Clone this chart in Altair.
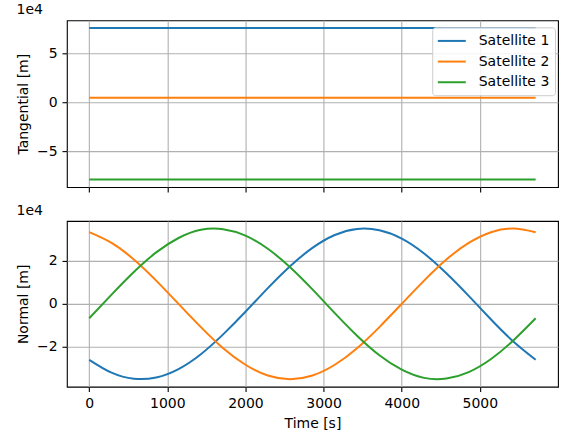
import altair as alt
import pandas as pd

# ---- data ----
satellites = ["Satellite 1", "Satellite 2", "Satellite 3"]
colors = ["#1f77b4", "#ff7f0e", "#2ca02c"]

# Tangential offsets (constant over the orbit)
tangential_time = [0, 5714]
tangential_sat1 = [75900, 75900]
tangential_sat2 = [4500, 4500]
tangential_sat3 = [-78900, -78900]

# Normal offsets sampled along the orbit
time_s = [0, 286, 571, 857, 1143, 1429, 1714, 2000, 2286, 2571, 2857,
          3143, 3428, 3714, 4000, 4286, 4571, 4857, 5143, 5428, 5714]
normal_sat1 = [-26000, -32000, -34800, -34200, -30300, -23400, -14200, -3700,
               7300, 17500, 26000, 32000, 34800, 34200, 30300, 23400, 14200,
               3700, -7300, -17500, -26000]
normal_sat2 = [33300, 28300, 20600, 10800, 0, -10800, -20600, -28300, -33300,
               -35000, -33300, -28300, -20600, -10800, 0, 10800, 20600, 28300,
               33300, 35000, 33300]
normal_sat3 = [-6700, 4300, 14800, 23900, 30600, 34400, 34700, 31700, 25600,
               17000, 6700, -4300, -14800, -23900, -30600, -34400, -34700,
               -31700, -25600, -17000, -6700]

x_ticks = [0, 1000, 2000, 3000, 4000, 5000]
x_domain = [-286, 6000]
tang_ticks = [-50000, 0, 50000]
tang_domain = [-86600, 83600]
norm_ticks = [-20000, 0, 20000]
norm_domain = [-38500, 38500]

# ---- tables ----
tang_rows = []
for name, vals in zip(satellites, [tangential_sat1, tangential_sat2, tangential_sat3]):
    for t, v in zip(tangential_time, vals):
        tang_rows.append({"time": t, "value": v, "sat": name})
tang_df = pd.DataFrame(tang_rows)

norm_rows = []
for name, vals in zip(satellites, [normal_sat1, normal_sat2, normal_sat3]):
    for t, v in zip(time_s, vals):
        norm_rows.append({"time": t, "value": v, "sat": name})
norm_df = pd.DataFrame(norm_rows)

label_expr = "replace(format(datum.value / 10000, 'd'), '-', '\u2212')"
color_scale = alt.Scale(domain=satellites, range=colors)

FS = 14
W = 492

title_params = dict(anchor="start", fontSize=FS, fontWeight="normal", offset=3,
                    font="DejaVu Sans")

top = alt.Chart(tang_df).mark_line(strokeWidth=2).encode(
    x=alt.X("time:Q", scale=alt.Scale(domain=x_domain, nice=False, zero=False),
            axis=alt.Axis(values=x_ticks, labels=False, title=None)),
    y=alt.Y("value:Q", scale=alt.Scale(domain=tang_domain, nice=False, zero=False),
            axis=alt.Axis(values=tang_ticks, labelExpr=label_expr, title="Tangential [m]")),
    color=alt.Color("sat:N", scale=color_scale,
                    legend=alt.Legend(title=None, orient="none", legendX=366, legendY=7,
                                      symbolType="M-2,0H2", symbolSize=196,
                                      symbolStrokeWidth=2, symbolOffset=6,
                                      labelFontSize=FS, labelOffset=19,
                                      rowPadding=5.7, padding=5.6,
                                      fillColor="rgba(255,255,255,0.85)",
                                      strokeColor="#cccccc", cornerRadius=3,
                                      labelColor="black", labelFont="DejaVu Sans")),
    detail="sat:N",
).properties(width=W, height=167, title=alt.TitleParams("1e4", **title_params))

bottom = alt.Chart(norm_df).mark_line(strokeWidth=2, interpolate="natural").encode(
    x=alt.X("time:Q", scale=alt.Scale(domain=x_domain, nice=False, zero=False),
            axis=alt.Axis(values=x_ticks, title="Time [s]", format="d")),
    y=alt.Y("value:Q", scale=alt.Scale(domain=norm_domain, nice=False, zero=False),
            axis=alt.Axis(values=norm_ticks, labelExpr=label_expr, title="Normal [m]")),
    color=alt.Color("sat:N", scale=color_scale, legend=None),
).properties(width=W, height=166, title=alt.TitleParams("1e4", **title_params))

chart = alt.vconcat(top, bottom, spacing=10).resolve_legend(
    color="independent"
).properties(
    padding={"left": 16, "top": 2, "right": 2, "bottom": 5},
).configure(
    font="DejaVu Sans",
).configure_view(
    stroke="black", strokeWidth=1.1,
).configure_axis(
    domain=False, tickColor="black", tickSize=4.9, tickWidth=1.1,
    labelFontSize=FS, titleFontSize=FS, titleFontWeight="normal",
    labelColor="black", titleColor="black", labelPadding=4.9,
    gridColor="#b0b0b0", gridWidth=1.1, titlePadding=6,
    labelFont="DejaVu Sans", titleFont="DejaVu Sans",
).configure_title(color="black")

chart.save("out.html", embed_options={"renderer": "svg", "actions": False})
